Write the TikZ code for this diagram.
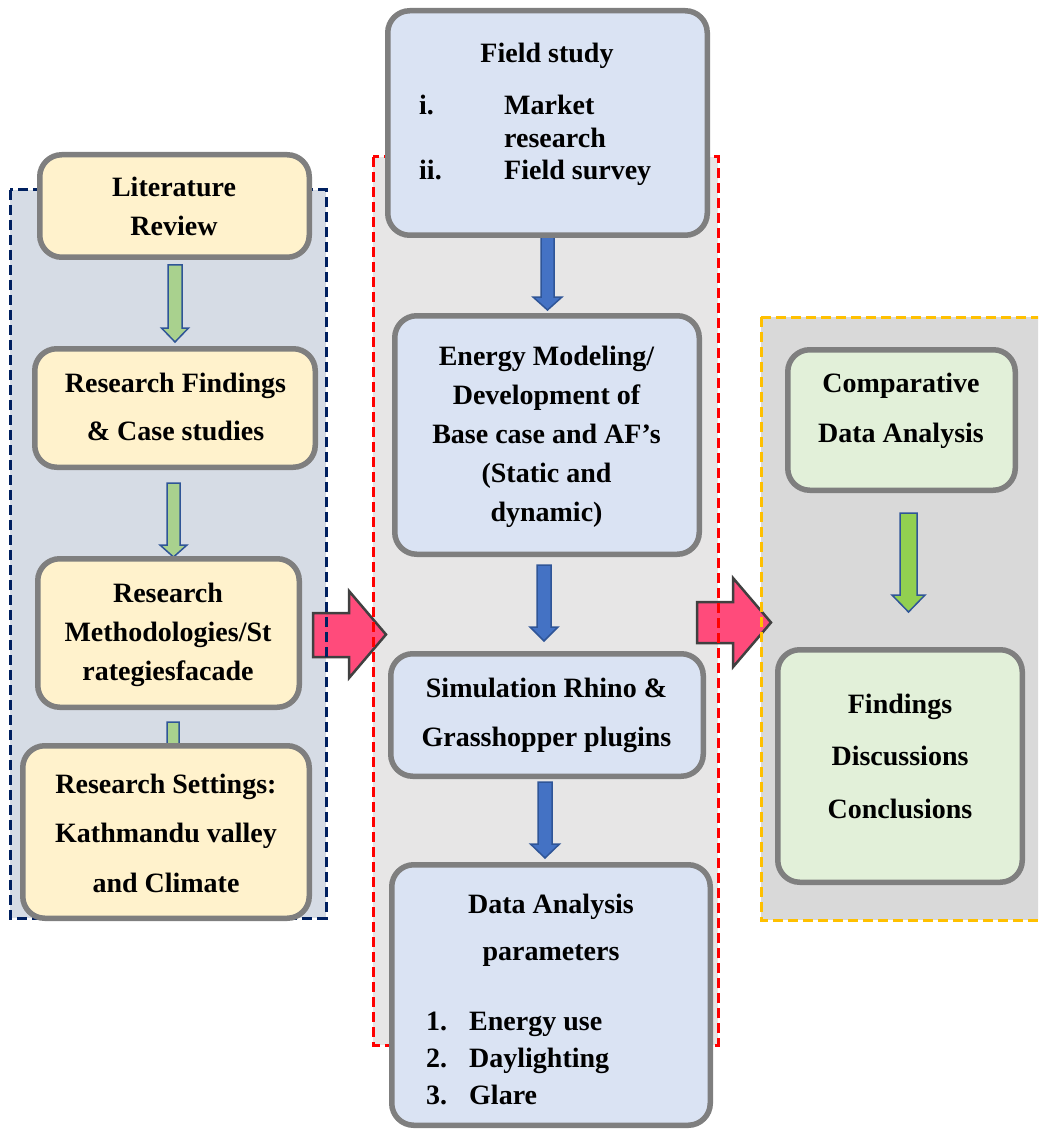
\documentclass[tikz,border=0pt]{standalone}
\usepackage{fontspec}
\setmainfont{Liberation Serif}

\definecolor{boxgray}{HTML}{7F7F7F}
\definecolor{yellowfill}{HTML}{FFF2CC}
\definecolor{bluefill}{HTML}{DAE3F3}
\definecolor{greenfill}{HTML}{E2F0D9}
\definecolor{leftbg}{HTML}{D6DCE5}
\definecolor{midbg}{HTML}{E7E6E6}
\definecolor{rightbg}{HTML}{D9D9D9}
\definecolor{navydash}{HTML}{002060}
\definecolor{reddash}{HTML}{FF0000}
\definecolor{orangedash}{HTML}{FFC000}
\definecolor{arrowblue}{HTML}{4472C4}
\definecolor{arrowedge}{HTML}{2F5597}
\definecolor{palegreen}{HTML}{A9D18E}
\definecolor{limegreen}{HTML}{92D050}
\definecolor{pinkfill}{HTML}{FF4B7B}
\definecolor{darkedge}{HTML}{404040}

% vertical block arrow: style, centre x, top y, head base y, tip y, half shaft width, half head width
\newcommand\downblock[7]{%
  \draw[#1] ({#2-#6},#3) -- ({#2+#6},#3) -- ({#2+#6},#4) -- ({#2+#7},#4)
    -- (#2,#5) -- ({#2-#7},#4) -- ({#2-#6},#4) -- cycle;}

\begin{document}
\begin{tikzpicture}[x=1pt,y=-1pt,
  panel/.style={draw=boxgray, line width=5.5pt, rounded corners=22pt, inner sep=0pt},
  yellowbox/.style={panel, fill=yellowfill},
  bluebox/.style={panel, fill=bluefill},
  greenbox/.style={panel, fill=greenfill},
  txt/.style={anchor=base, inner sep=0pt, font=\bfseries\fontsize{28}{#1}\selectfont},
  listtxt/.style={anchor=base west, inner sep=0pt, font=\bfseries\fontsize{28}{#1}\selectfont},
  regionline/.style={line width=3pt, dash pattern=on 10pt off 5pt},
  greenarrow/.style={fill=palegreen, draw=arrowedge, line width=1.5pt, line join=miter},
  limearrow/.style={fill=limegreen, draw=arrowedge, line width=1.5pt, line join=miter},
  bluearrow/.style={fill=arrowblue, draw=arrowedge, line width=1.5pt, line join=miter},
  pinkarrow/.style={fill=pinkfill, draw=darkedge, line width=2.5pt, line join=miter}
]
\clip (0,0) rectangle (1038,1131);

% background panels of the three stages
\fill[leftbg]  (10,190) rectangle (326,918);
\fill[midbg]   (373,157) rectangle (718,1045);
\fill[rightbg] (761,317) rectangle (1048,920);

% transition arrows between the stages
\draw[pinkarrow] (313,613) -- (349,613) -- (349,591) -- (386,634.5) -- (349,678) -- (349,657) -- (313,657) -- cycle;
\draw[pinkarrow] (697,602) -- (733,602) -- (733,578) -- (771,622.5) -- (733,667) -- (733,643) -- (697,643) -- cycle;

% dashed stage outlines
\draw[regionline, navydash]   (10,190) rectangle (326,918);
\draw[regionline, reddash]    (373,157) rectangle (718,1045);
\draw[regionline, orangedash] (761,317) rectangle (1048,920);

% step arrows inside the stages
\downblock{greenarrow}{175}{265}{328}{342}{7}{13.5}
\downblock{greenarrow}{173.5}{483}{545}{557}{6.5}{13.5}
\downblock{greenarrow}{173}{722}{770}{782}{6}{13}
\downblock{bluearrow}{547.5}{235}{297}{310}{6.5}{14.5}
\downblock{bluearrow}{544}{565}{627}{641}{7}{14}
\downblock{bluearrow}{545}{782}{844}{858}{7}{14.5}
\downblock{limearrow}{908.5}{513}{595}{612}{8.5}{16.5}

% left stage boxes
\node[yellowbox, minimum width=269.5pt, minimum height=102.5pt] (lit)  at (174.5,206) {};
\node[yellowbox, minimum width=280.5pt, minimum height=118.5pt] (find) at (175,408) {};
\node[yellowbox, minimum width=261.5pt, minimum height=148.5pt] (meth) at (168.5,633) {};
\node[yellowbox, minimum width=286.5pt, minimum height=172.5pt] (sett) at (166,832) {};

% middle stage boxes
\node[bluebox, minimum width=319.5pt, minimum height=224.5pt] (field)  at (547.5,123) {};
\node[bluebox, minimum width=304.5pt, minimum height=238.5pt] (energy) at (547,435) {};
\node[bluebox, minimum width=312.5pt, minimum height=122.5pt] (sim)    at (547,715) {};
\node[bluebox, minimum width=318.5pt, minimum height=260.5pt] (data)   at (551,995) {};

% right stage boxes
\node[greenbox, minimum width=227.5pt, minimum height=140.5pt] (comp) at (901.5,420) {};
\node[greenbox, minimum width=244.5pt, minimum height=232.5pt] (fnd)  at (900,766) {};

% box texts
\node[txt=39] (litT) at (174,197) {\begin{tabular}[t]{@{}c@{}}Literature\\Review\end{tabular}};
\node[txt=48] (findT) at (175.5,392) {\begin{tabular}[t]{@{}c@{}}Research Findings\\\& Case studies\end{tabular}};
\node[txt=39] (methT) at (168,602.5) {\begin{tabular}[t]{@{}c@{}}Research\\Methodologies/St\\rategiesfacade\end{tabular}};
\node[txt=49.5] (settT) at (166,793) {\begin{tabular}[t]{@{}c@{}}Research Settings:\\Kathmandu valley\\and Climate\end{tabular}};

\node[txt=34] (fieldT) at (547,63) {Field study};
\node[listtxt=32.5] (fieldL) at (419,115) {\begin{tabular}[t]{@{}p{85pt}@{}l@{}}i. & Market\\ & research\\ii. & Field survey\end{tabular}};
\node[txt=39.2] (energyT) at (546.5,365) {\begin{tabular}[t]{@{}c@{}}Energy Modeling/\\Development of\\Base case and AF's\\(Static and\\dynamic)\end{tabular}};
\node[txt=49] (simT) at (546.5,697.5) {\begin{tabular}[t]{@{}c@{}}Simulation Rhino \&\\Grasshopper plugins\end{tabular}};
\node[txt=47] (dataT) at (551,913) {\begin{tabular}[t]{@{}c@{}}Data Analysis\\parameters\end{tabular}};
\node[listtxt=37] (dataL) at (426,1030) {\begin{tabular}[t]{@{}p{43pt}@{}l@{}}1. & Energy use\\2. & Daylighting\\3. & Glare\end{tabular}};

\node[txt=50] (compT) at (901,392) {\begin{tabular}[t]{@{}c@{}}Comparative\\Data Analysis\end{tabular}};
\node[txt=52.5] (fndT) at (900,713) {\begin{tabular}[t]{@{}c@{}}Findings\\Discussions\\Conclusions\end{tabular}};
\end{tikzpicture}
\end{document}
